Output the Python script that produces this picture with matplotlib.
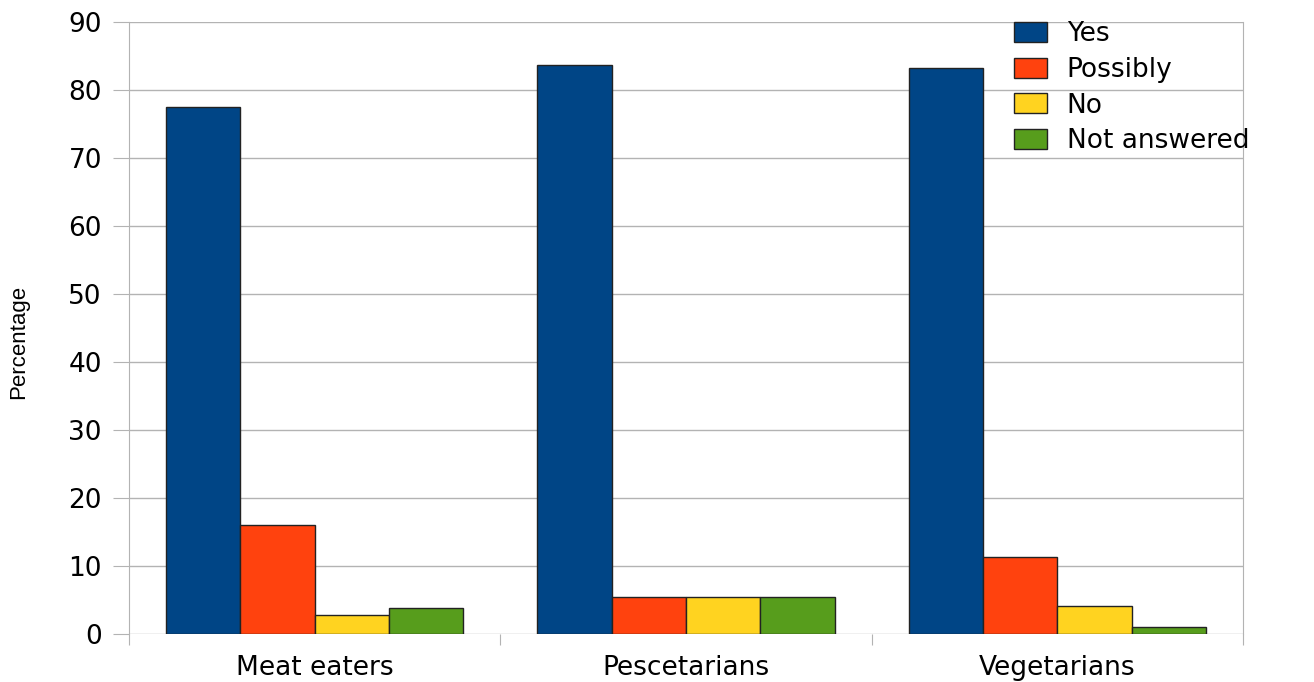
import numpy as np
import matplotlib
matplotlib.use("Agg")
import matplotlib.pyplot as plt
from matplotlib.ticker import FixedLocator, NullFormatter

plt.rcParams['font.family'] = ['DejaVu Sans']

groups = ["Meat eaters", "Pescetarians", "Vegetarians"]
answers = ["Yes", "Possibly", "No", "Not answered"]
yes = [77.5, 83.7, 83.2]
possibly = [16.0, 5.4, 11.3]
no = [2.8, 5.4, 4.1]
not_answered = [3.8, 5.4, 1.0]
colors = ["#004586", "#ff420e", "#ffd320", "#579d1c"]

series = [yes, possibly, no, not_answered]

fig = plt.figure(figsize=(13.14, 6.82), dpi=100)
ax = fig.add_axes([129/1314, 1 - 634/682, 1114/1314, 612/682])

n = len(answers)
w = 0.8 / n
x = np.arange(len(groups)) + 0.5
for i, (vals, name) in enumerate(zip(series, answers)):
    ax.bar(x - 0.4 + w * (i + 0.5), vals, width=w, color=colors[i],
           edgecolor="#222222", linewidth=1, label=name, zorder=3)

ax.set_xlim(0, len(groups))
ax.set_ylim(0, 90)
ax.set_yticks(np.arange(0, 91, 10))
ax.tick_params(axis='y', labelsize=19, length=11.5, color="#b3b3b3", pad=8)

# category labels centred, ticks at the group boundaries
ax.xaxis.set_major_locator(FixedLocator(np.arange(len(groups) + 1)))
ax.xaxis.set_major_formatter(NullFormatter())
ax.xaxis.set_minor_locator(FixedLocator(x))
ax.set_xticklabels(groups, minor=True)
ax.tick_params(axis='x', which='major', length=8, color="#b3b3b3")
ax.tick_params(axis='x', which='minor', length=0, labelsize=19, pad=15)

ax.grid(axis='y', color="#b3b3b3", linewidth=1, zorder=0)
for s in ["left", "right"]:
    ax.spines[s].set_color("#b3b3b3")
for s in ["top", "bottom"]:
    ax.spines[s].set_visible(False)

ax.set_ylabel("Percentage", fontsize=16, family="Liberation Sans")
ax.yaxis.set_label_coords(-100/1114, (634 - 342)/612)

ax.legend(loc="upper left", bbox_to_anchor=(1014/1314, 1 - 21/682),
          bbox_transform=fig.transFigure, frameon=False, fontsize=19,
          handlelength=1.25, handleheight=0.8, handletextpad=0.75,
          labelspacing=0.37, borderaxespad=0, borderpad=0)

fig.savefig("out.png", dpi=100)
